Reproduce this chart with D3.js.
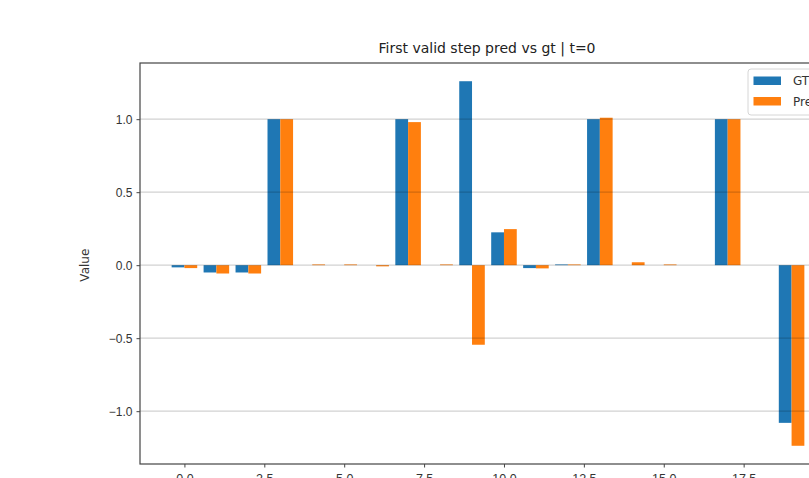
<!DOCTYPE html>
<meta charset="utf-8">
<style>
body { margin: 0; background: #fff; }
svg { display: block; font-family: "DejaVu Sans", sans-serif; }
.axis path, .axis line { stroke: #444; }
.axis text { fill: #333; font-size: 12px; }
</style>
<svg width="809" height="478"></svg>
<script src="https://cdn.jsdelivr.net/npm/d3@7"></script>
<script>

// step index of each pair of bars
var steps = d3.range(20);
var gtValues   = [-0.015, -0.05, -0.05, 1.0, 0, 0, 0, 1.0, 0, 1.26, 0.225, -0.02, 0.005, 1.0, 0, 0, 0, 1.0, 0, -1.08];
var predValues = [-0.02, -0.057, -0.057, 1.0, 0.005, 0.005, -0.008, 0.98, 0.005, -0.545, 0.247, -0.022, 0.005, 1.01, 0.02, 0.005, 0, 1.0, 0, -1.237];
var seriesNames = ["GT", "Pred"];
var xTicks = [0, 2.5, 5, 7.5, 10, 12.5, 15, 17.5, 20];
var yTicks = [-1, -0.5, 0, 0.5, 1];

var colors = ["#1f77b4", "#ff7f0e"];
var barW = 0.4;

var svg = d3.select("svg");
var plotL = 140, plotR = 836, plotT = 63, plotB = 464;

// matplotlib-style 5% margins
var xLo = d3.min(steps) - barW, xHi = d3.max(steps) + barW;
var xPad = (xHi - xLo) * 0.05;
var x = d3.scaleLinear().domain([xLo - xPad, xHi + xPad]).range([plotL, plotR]);

var all = gtValues.concat(predValues, [0]);
var yLo = d3.min(all), yHi = d3.max(all);
var yPad = (yHi - yLo) * 0.05;
var y = d3.scaleLinear().domain([yLo - yPad, yHi + yPad]).range([plotB, plotT]);

// bars
var series = [gtValues, predValues];
series.forEach(function (vals, s) {
  svg.append("g")
    .selectAll("rect")
    .data(vals)
    .enter().append("rect")
      .attr("x", function (d, i) { return s == 0 ? x(steps[i] - barW) : x(steps[i]); })
      .attr("width", function () { return x(barW) - x(0); })
      .attr("y", function (d) { return y(Math.max(0, d)); })
      .attr("height", function (d) { return Math.abs(y(d) - y(0)); })
      .attr("fill", colors[s]);
});

// y grid (drawn over bars)
svg.append("g")
  .selectAll("line")
  .data(yTicks)
  .enter().append("line")
    .attr("x1", plotL).attr("x2", plotR)
    .attr("y1", function (d) { return y(d); })
    .attr("y2", function (d) { return y(d); })
    .attr("stroke", "#000")
    .attr("stroke-opacity", 0.18)
    .attr("stroke-width", 1.2);

// frame
svg.append("rect")
  .attr("x", plotL).attr("y", plotT)
  .attr("width", plotR - plotL).attr("height", plotB - plotT)
  .attr("fill", "none").attr("stroke", "#444").attr("stroke-width", 1.2);

var xAxis = svg.append("g")
  .attr("class", "axis")
  .attr("transform", "translate(0," + plotB + ")")
  .call(d3.axisBottom(x).tickValues(xTicks).tickFormat(d3.format(".1f")).tickSize(3.5).tickPadding(7));
xAxis.select(".domain").remove();
xAxis.selectAll("text").style("font-size", "12.5px");

var yAxis = svg.append("g")
  .attr("class", "axis")
  .attr("transform", "translate(" + plotL + ",0)")
  .call(d3.axisLeft(y).tickValues(yTicks).tickFormat(d3.format(".1f")).tickSize(3.5).tickPadding(4));
yAxis.select(".domain").remove();

svg.append("text")
  .attr("x", 487).attr("y", 53)
  .attr("text-anchor", "middle")
  .style("font-size", "14px")
  .style("fill", "#222")
  .text("First valid step pred vs gt | t=0");

svg.append("text")
  .attr("transform", "translate(89," + y(0) + ") rotate(-90)")
  .attr("text-anchor", "middle")
  .style("font-size", "12px")
  .style("fill", "#333")
  .text("Value");

// legend
var legend = svg.append("g").attr("transform", "translate(748,69)");
legend.append("rect")
  .attr("width", 100).attr("height", 46).attr("rx", 3)
  .attr("fill", "#fff").attr("fill-opacity", 0.8)
  .attr("stroke", "#d6d6d6");
seriesNames.forEach(function (name, i) {
  legend.append("rect")
    .attr("x", 5.5).attr("y", 7.5 + i * 20.5)
    .attr("width", 27.5).attr("height", 8.5)
    .attr("fill", colors[i]);
  legend.append("text")
    .attr("x", 45).attr("y", 16 + i * 20.5)
    .style("font-size", "12px")
    .style("fill", "#333")
    .text(name);
});

</script>
